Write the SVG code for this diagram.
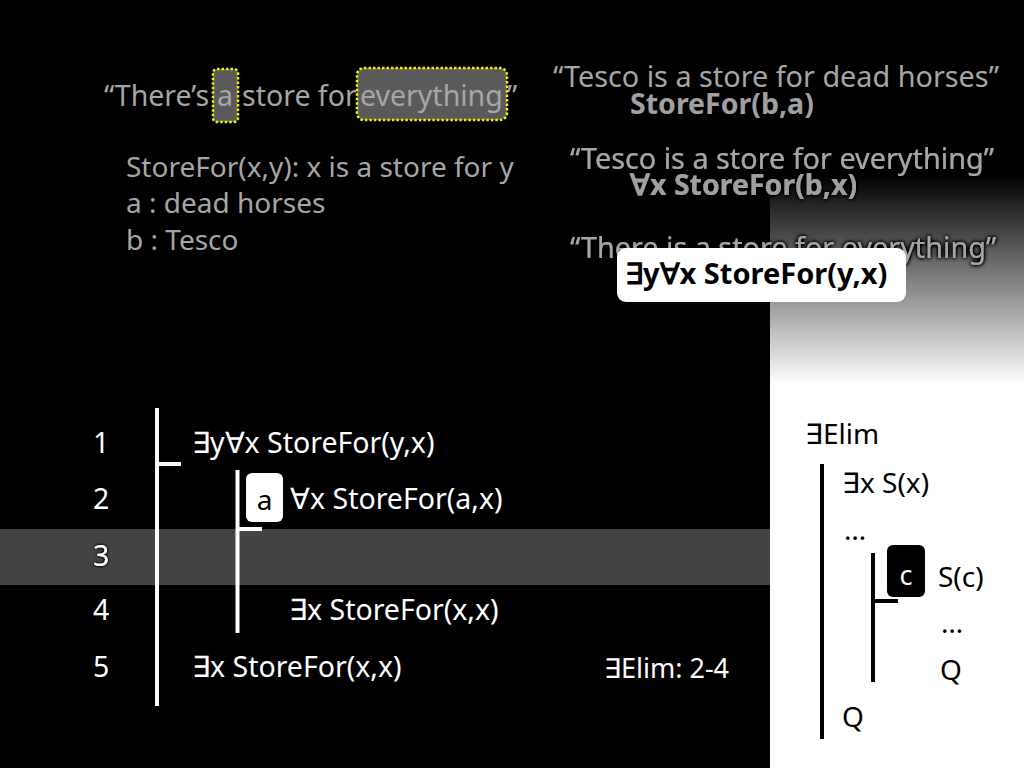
<svg xmlns="http://www.w3.org/2000/svg" width="1024" height="768" viewBox="0 0 1024 768">
<defs>
<linearGradient id="fade" x1="0" y1="0" x2="0" y2="1">
<stop offset="0" stop-color="#000"/>
<stop offset="1" stop-color="#fff"/>
</linearGradient>
<filter id="glow" x="-10%" y="-50%" width="120%" height="200%">
<feGaussianBlur in="SourceAlpha" stdDeviation="2"/>
<feComponentTransfer><feFuncA type="linear" slope="2.5"/></feComponentTransfer>
<feMerge><feMergeNode/><feMergeNode in="SourceGraphic"/></feMerge>
</filter>
<filter id="glow3" x="-50%" y="-50%" width="200%" height="200%">
<feGaussianBlur in="SourceAlpha" stdDeviation="1.5"/>
<feComponentTransfer><feFuncA type="linear" slope="2"/></feComponentTransfer>
<feMerge><feMergeNode/><feMergeNode in="SourceGraphic"/></feMerge>
</filter>
</defs>
<style>
text{font-family:"Noto Sans","Liberation Sans",sans-serif;}
.g{fill:#a6a6a6;font-size:28px;}
.gq{fill:#a6a6a6;font-size:28.8px;}
.gb{fill:#a0a0a0;font-size:28.5px;font-weight:bold;}
.w{fill:#fff;font-size:28.5px;}
.k{fill:#000;font-size:28px;}
.hl{fill:#5a5a5a;stroke:#f2f200;stroke-width:2.5;stroke-dasharray:2.5 2;}
.bar{stroke:#fff;stroke-width:4;fill:none;}
.kbar{stroke:#000;stroke-width:4;fill:none;}
</style>
<rect x="0" y="0" width="1024" height="768" fill="#000"/>
<rect x="770" y="175" width="254" height="210" fill="url(#fade)"/>
<rect x="770" y="384" width="254" height="384" fill="#fff"/>
<rect x="0" y="529" width="770" height="56" fill="#444"/>

<g id="intro">
<rect class="hl" x="213" y="69" width="25" height="53" rx="4"/>
<rect class="hl" x="357" y="68" width="150" height="52" rx="7"/>
<text class="g" y="106" style="font-size:28.5px"><tspan x="104">“There’s</tspan><tspan x="217">a</tspan><tspan x="242">store for</tspan><tspan x="360">everything</tspan><tspan x="507">”</tspan></text>
<text class="g" x="126" y="177">StoreFor(x,y): x is a store for y</text>
<text class="g" x="126" y="213">a : dead horses</text>
<text class="g" x="126" y="250">b : Tesco</text>
</g>

<g id="examples">
<text class="gq" x="553" y="87">“Tesco is a store for dead horses”</text>
<text class="gb" x="630" y="114">StoreFor(b,a)</text>
<text class="gq" x="570" y="169" filter="url(#glow)">“Tesco is a store for everything”</text>
<text class="gb" x="630" y="195" filter="url(#glow)">∀x StoreFor(b,x)</text>
<text class="gq" x="570" y="258" filter="url(#glow)">“There is a store for everything”</text>
<g id="answer">
<rect x="617" y="248" width="289" height="54" rx="9" fill="#fff"/>
<text x="625" y="284" style="fill:#000;font-size:29px;font-weight:bold">∃y∀x StoreFor(y,x)</text>
</g>
</g>

<g id="proof">
<text class="w" x="93" y="453">1</text>
<text class="w" x="93" y="509">2</text>
<text class="w" x="93" y="566" filter="url(#glow3)">3</text>
<text class="w" x="93" y="620">4</text>
<text class="w" x="93" y="677">5</text>
<path class="bar" d="M157 408V706M157 464H181"/>
<text class="w" x="192" y="453">∃y∀x StoreFor(y,x)</text>
<path class="bar" d="M237.5 470V633M237.5 529H262"/>
<g id="box-a">
<rect x="246" y="473" width="37" height="49" rx="6" fill="#fff"/>
<text class="k" x="264.5" y="510" text-anchor="middle">a</text>
</g>
<text class="w" x="290" y="509">∀x StoreFor(a,x)</text>
<text class="w" x="289" y="620">∃x StoreFor(x,x)</text>
<text class="w" x="192" y="677">∃x StoreFor(x,x)</text>
<text class="w" x="604" y="678" style="font-size:27px">∃Elim: 2-4</text>
</g>

<g id="rule">
<text class="k" x="805" y="444">∃Elim</text>
<path class="kbar" d="M822 464V739"/>
<text class="k" x="842" y="493">∃x S(x)</text>
<text class="k" x="844" y="540">…</text>
<path class="kbar" d="M873 553V682M873 601H898"/>
<g id="box-c">
<rect x="887" y="545" width="38" height="52" rx="6" fill="#000"/>
<text x="906" y="585" text-anchor="middle" style="fill:#fff;font-size:27px">c</text>
</g>
<text class="k" x="938" y="587">S(c)</text>
<text class="k" x="941" y="633">…</text>
<text class="k" x="940" y="680">Q</text>
<text class="k" x="842" y="727">Q</text>
</g>
</svg>
